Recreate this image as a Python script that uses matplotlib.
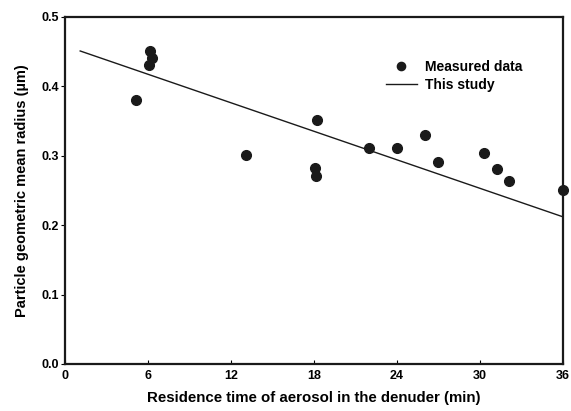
import matplotlib
matplotlib.use("Agg")
import matplotlib.pyplot as plt

plt.rcParams['font.family'] = ['Liberation Sans', 'DejaVu Sans']
plt.rcParams['font.weight'] = 'bold'

# measured data
time_meas = [5.1, 6.15, 6.3, 6.05, 13.05, 18.2, 18.05, 18.15, 22.0, 24.0, 26.0, 27.0,
             30.3, 31.2, 32.1, 36.0]
radius_meas = [0.381, 0.451, 0.441, 0.431, 0.301, 0.351, 0.282, 0.271, 0.311, 0.311,
               0.330, 0.291, 0.304, 0.281, 0.263, 0.251]

# model line
time_model = [1.1, 36]
radius_model = [0.451, 0.212]

xticks = [0, 6, 12, 18, 24, 30, 36]
yticks = [0.0, 0.1, 0.2, 0.3, 0.4, 0.5]

fig = plt.figure(figsize=(5.71, 4.11), dpi=100)
ax = fig.add_axes([0.1138, 0.1144, 0.8722, 0.8443])

ax.plot(time_meas, radius_meas, 'o', color='#1a1a1a', markersize=7,
        label='Measured data', clip_on=False, zorder=3)
ax.plot(time_model, radius_model, '-', color='#1a1a1a', linewidth=1,
        label='This study')

ax.set_xlim(0, 36)
ax.set_ylim(0, 0.5)
ax.set_xticks(xticks)
ax.set_yticks(yticks)
ax.set_yticklabels([f'{v:.1f}' for v in yticks])
ax.tick_params(axis='x', direction='in', length=3, width=0.8, labelsize=9, pad=4)
ax.tick_params(axis='y', direction='out', length=3, width=0.8, labelsize=9, pad=1.5)
for s in ax.spines.values():
    s.set_linewidth(1.6)
    s.set_color('#1a1a1a')

ax.set_xlabel('Residence time of aerosol in the denuder (min)', fontsize=10.8,
              fontweight='bold', labelpad=7)
ax.set_ylabel('Particle geometric mean radius (\u00b5m)', fontsize=10.5,
              fontweight='bold', labelpad=9)

leg = ax.legend(loc='upper left', bbox_to_anchor=(0.645, 0.876), frameon=False,
                fontsize=10, handlelength=2.2, handletextpad=0.6, labelspacing=0.3,
                borderpad=0, borderaxespad=0, markerscale=0.85)

fig.savefig('out.png', dpi=100)
